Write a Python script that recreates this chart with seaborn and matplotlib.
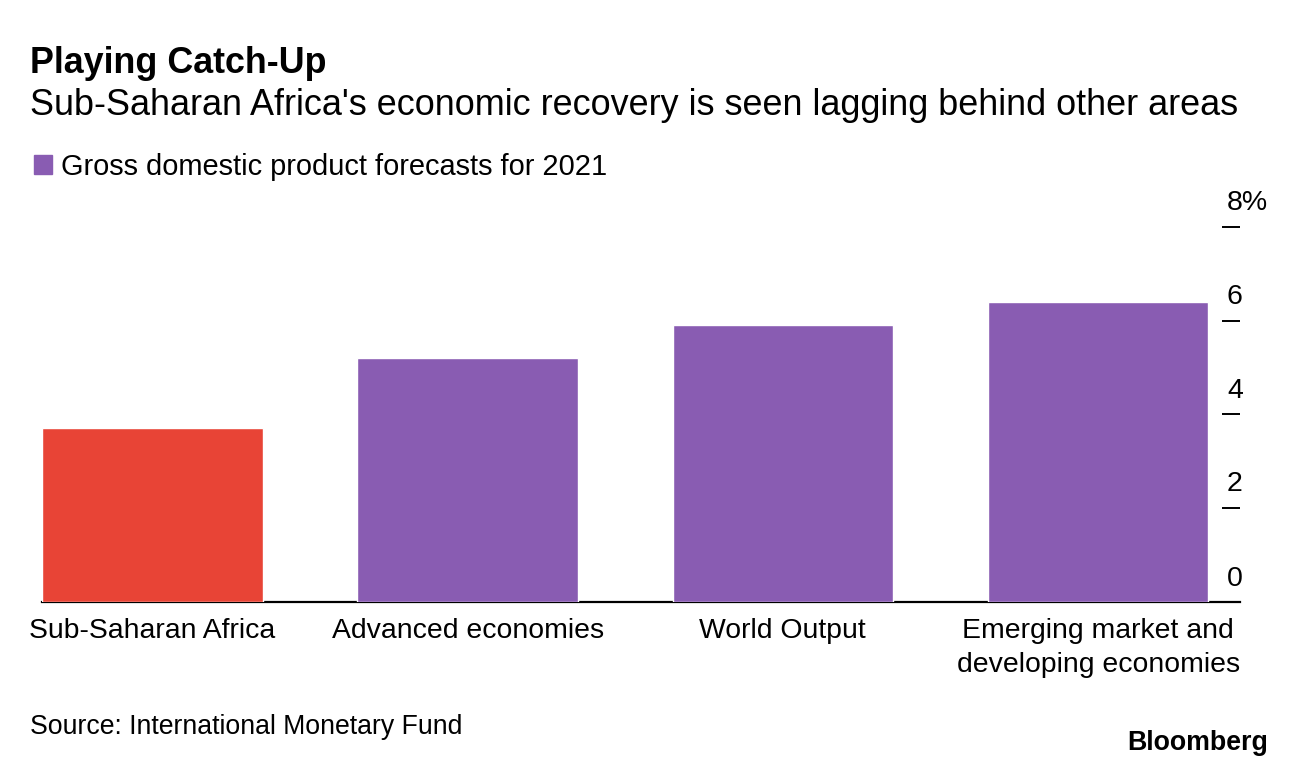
import matplotlib as mpl
import matplotlib.pyplot as plt
import seaborn as sns
from matplotlib.patches import Patch

mpl.use("Agg")

categories = ["Sub-Saharan Africa", "Advanced economies", "World Output",
              "Emerging market and\ndeveloping economies"]
gdp_2021 = [3.7, 5.2, 5.9, 6.4]
bar_colors = ["#E84436", "#895CB2", "#895CB2", "#895CB2"]
y_ticks = [0, 2, 4, 6, 8]
y_tick_labels = ["0", "2", "4", "6", "8%"]

sns.set_theme(style="white")
plt.rcParams["font.family"] = ["Liberation Sans", "DejaVu Sans"]
plt.rcParams["text.color"] = "black"
plt.rcParams["xtick.color"] = "black"
plt.rcParams["ytick.color"] = "black"

W, H = 1296, 766
fig = plt.figure(figsize=(W / 100, H / 100), dpi=100)


def fx(px):
    return px / W


def fy(py):
    return 1 - py / H


ax = fig.add_axes([fx(42), fy(601.5), fx(1240) - fx(42), fy(227) - fy(601.5)])

sns.barplot(x=categories, y=gdp_2021, hue=categories, palette=bar_colors,
            legend=False, width=0.7, saturation=1, ax=ax, zorder=3)

ax.set_xlim(-0.35, 3.45)
ax.set_ylim(0, 8)
for s in ["top", "left", "right"]:
    ax.spines[s].set_visible(False)
ax.spines["bottom"].set_color("black")
ax.spines["bottom"].set_linewidth(1.6)
ax.spines["bottom"].set_zorder(2)

# dashes on the right, labels sit above them
ax.yaxis.tick_right()
ax.set_yticks([t for t in y_ticks if t > 0])
ax.tick_params(axis="y", direction="in", length=13, width=1.4, color="black",
               labelright=False, right=True, left=False)
for v, lab in zip(y_ticks, y_tick_labels):
    ax.annotate(lab, xy=((1227 - 42) / 1198, v), xycoords=("axes fraction", "data"),
                xytext=(0, 12 if v > 0 else 11), textcoords="offset points",
                ha="left", va="baseline", fontsize=20.5, color="black")

ax.tick_params(axis="x", length=0, pad=12, labelsize=20.4, labelcolor="black")
for lab in ax.get_xticklabels():
    lab.set_linespacing(1.4)
ax.set_xlabel("")
ax.set_ylabel("")
ax.grid(False)

fig.text(fx(30), fy(73), "Playing Catch-Up", fontsize=25.8, fontweight="bold", ha="left", va="baseline")
fig.text(fx(30), fy(115), "Sub-Saharan Africa's economic recovery is seen lagging behind other areas",
         fontsize=25.9, ha="left", va="baseline")
fig.legend(handles=[Patch(color="#895CB2", label="Gross domestic product forecasts for 2021")],
           loc="upper left", bbox_to_anchor=(fx(22), fy(141)), frameon=False, fontsize=20.9,
           handlelength=0.65, handleheight=0.65, handletextpad=0.3, borderaxespad=0)
fig.text(fx(30), fy(734), "Source: International Monetary Fund", fontsize=19.2, ha="left", va="baseline")
fig.text(fx(1268), fy(750), "Bloomberg", fontsize=19.3, fontweight="bold", ha="right", va="baseline")

fig.savefig("out.png", dpi=100)
